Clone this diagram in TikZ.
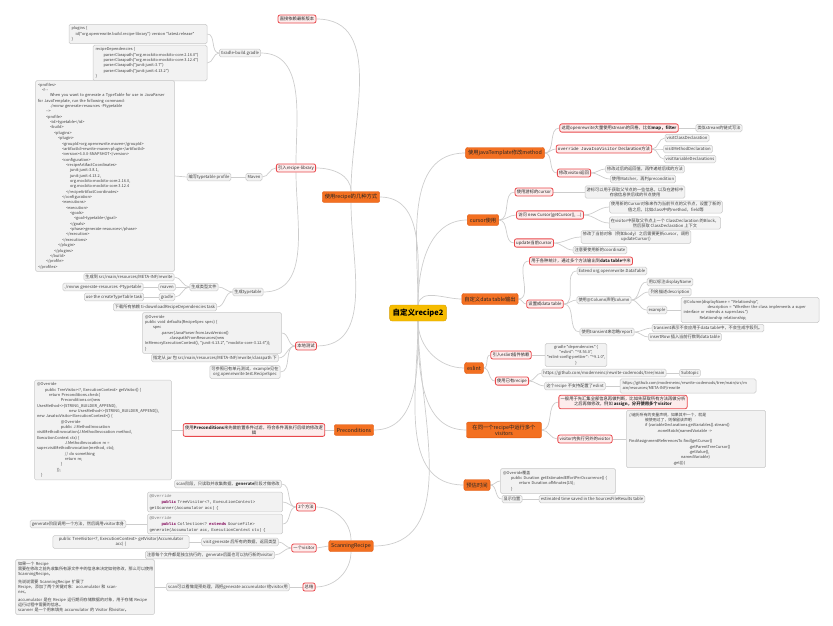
\documentclass[tikz,border=0pt]{standalone}
\usepackage{fontspec}
\newfontfamily\cjk{Noto Sans CJK SC}
\setmonofont{Liberation Mono}
\usepackage{xcolor}
\usepackage{tikz}
\usetikzlibrary{positioning, backgrounds}
\definecolor{gold}{RGB}{246, 188, 0}
\definecolor{golddk}{RGB}{214, 158, 0}
\definecolor{mmorange}{RGB}{243, 112, 33}
\definecolor{mmorangedk}{RGB}{222, 88, 18}
\definecolor{subred}{RGB}{232, 72, 76}
\definecolor{subfill}{RGB}{253, 236, 236}
\definecolor{leaffill}{RGB}{242, 242, 242}
\definecolor{leafline}{RGB}{200, 200, 200}
\definecolor{linegray}{RGB}{205, 205, 205}
\definecolor{kwpurple}{RGB}{127, 0, 85}
\newlength{\cindstep}
\setlength{\cindstep}{4pt}
\newcommand{\cind}[1]{\hspace*{#1\cindstep}}
\newcommand{\kw}[1]{\textcolor{kwpurple}{\bfseries #1}}

\begin{document}
\begin{tikzpicture}[x=1pt, y=-1pt,
  rootnode/.style={rectangle, rounded corners=2.5pt, fill=gold, draw=golddk,
    font=\cjk\fontsize{7.5pt}{9pt}\selectfont\bfseries,
    minimum height=16pt, inner sep=3pt},
  topic/.style={rectangle, rounded corners=2pt, fill=mmorange, draw=mmorangedk,
    font=\cjk\fontsize{5.3pt}{6.3pt}\selectfont, text=black!85,
    minimum height=11pt, inner sep=2.5pt, align=center},
  sub/.style={rectangle, rounded corners=2pt, fill=subfill, draw=subred,
    line width=0.8pt, font=\cjk\fontsize{4.3pt}{5.2pt}\selectfont, text=black!85,
    minimum height=8pt, inner sep=1.8pt, align=center},
  leaf/.style={rectangle, rounded corners=1.5pt, fill=leaffill, draw=leafline,
    line width=0.5pt, font=\cjk\fontsize{4.2pt}{5.2pt}\selectfont, text=black!75,
    minimum height=7.5pt, inner sep=1.6pt, align=center},
  code/.style={leaf, align=left, font=\cjk\fontsize{3.9pt}{5.35pt}\selectfont,
    inner sep=2.5pt},
  mono/.style={leaf, align=left, font=\fontsize{4.1pt}{6pt}\selectfont\ttfamily,
    inner sep=2pt},
  link/.style={draw=linegray, line width=0.7pt}
]
\useasboundingbox (0,0) rectangle (833,626);

% Root
\node[rootnode] at (418,313) (root) {自定义recipe2};

% javaTemplate branch
\node[topic] at (505,153) (jt) {使用javaTemplate修改method};
\node[sub] at (619,128) (jt1) {这是openrewrite大量使用stream的风格，比如\textbf{map，filter}};
\node[leaf] at (719,128) (jt1a) {类似stream的链式写法};
\node[sub] at (604,149) (jt2) {\texttt{override JavaIsoVisitor} Declaration方法};
\node[leaf] at (687,138) (vcd) {visitClassDeclaration};
\node[leaf] at (688,149) (vmd) {visitMethodDeclaration};
\node[leaf] at (690,159) (vvd) {visitVariableDeclarations};
\node[sub] at (574,173) (jt3) {修改visitor返回};
\node[leaf] at (645,169) (jt3a) {修改过后的返回值，再传递给后续的方法};
\node[leaf] at (643,179) (jt3b) {使用Matcher，再判precondition};

% cursor branch
\node[topic] at (483,220) (cur) {cursor使用};
\node[sub] at (534,192) (cur1) {使用游标的cursor};
\node[leaf] at (635,192) (cur1a) {游标可以用于获取父节点的一些信息，以及在游标中\\存放信息供后续的节点使用};
\node[sub] at (550,215) (cur2) {访问 new Cursor(getCursor(), ...)};
\node[leaf] at (666,207) (cur2a) {使用新的Cursor对象来作为当前节点的父节点，设置了新的\\值之后，比如class中的method，field等};
\node[leaf] at (665,223) (cur2b) {在visitor中获取父节点上一个 ClassDeclaration 的Block，\\然后获取 ClassDeclaration 上下文};
\node[sub] at (534,243) (cur3) {update当前cursor};
\node[leaf] at (636,237) (cur3a) {修改了当前对象（例如body）之后需要更新cursor，调用\\updateCursor()};
\node[leaf] at (600,250) (cur3b) {注意要使用新的coordinate};

% data table branch
\node[topic] at (490,299) (dt) {自定义data table输出};
\node[sub] at (581,261) (dt1) {用于各种统计，通过多个方法输出到\textbf{data table}中来};
\node[sub] at (545,304) (dt2) {设置成data table};
\node[leaf] at (612,271) (dt2a) {Extend org.openrewrite.DataTable};
\node[leaf] at (604,300) (dt2b) {使用@Column声明column};
\node[leaf] at (670,282) (dt2b1) {用以标注displayName};
\node[leaf] at (670,292) (dt2b2) {列名描述description};
\node[leaf] at (657,310) (dt2b3) {example};
\node[code, text width=133pt] at (750,310) (dt2b3a) {@Column(displayName = "Relationship",\\
\cind6description = "Whether the class implements a super\\
interface or extends a superclass.")\\
\cind4Relationship relationship;};
\node[leaf] at (607,332) (dt2c) {使用transient来忽略report};
\node[leaf] at (708,328) (dt2c1) {transient表示不会应用于data table中，不会生成字段列。};
\node[leaf] at (685,337) (dt2c2) {insertRow 插入当前行数到data table};

% eslint branch
\node[topic] at (474,368) (es) {eslint};
\node[sub] at (511,355) (es1) {引入eslint插件依赖};
\node[leaf, font=\cjk\fontsize{3.9pt}{5.4pt}\selectfont] at (576,355) (es1a) {gradle "dependencies" \{\\
"eslint": "\textasciicircum 8.56.0",\\
"eslint-config-prettier": "\textasciicircum 9.1.0",\\
\}};
\node[sub] at (512,381) (es2) {使用已有recipe};
\node[leaf] at (604,373) (es2a) {https://github.com/moderneinc/rewrite-codemods/tree/main};
\node[leaf] at (690,373) (es2a1) {Subtopic};
\node[leaf] at (575,386) (es2b) {这个recipe 不支持配置了eslint};
\node[code, text width=131pt] at (688,386) (es2b1) {https://github.com/moderneinc/rewrite-codemods/tree/main/src/m\\ain/resources/META-INF/rewrite};

% multiple visitors branch
\node[topic, text width=70pt] at (504,430) (mv) {在同一个recipe中运行多个\\visitors};
\node[sub] at (623,402) (mv1) {一般用于先汇集全部信息再做判断，比如先获取所有方法再做分析\\之后再做修改，例如 \textbf{assign，分开使用多个visitor}};
\node[sub] at (585,439) (mv2) {visitor内执行另外的visitor};
\node[code, text width=134pt] at (696,439) (mv2a) {//遍历所有的变量声明，如果其中一个，就是\\
\cind4被使用过了，则保留该声明\\
\cind4if (variableDeclarations.getVariables().stream()\\
\cind7.noneMatch(namedVariable ->\\[5.35pt]
FindAssignmentReferencesTo.find(getCursor()\\
\cind{15}.getParentTreeCursor()\\
\cind{15}.getValue(),\\
\cind{13}namedVariable)\\
\cind{11}.get()))};

% estimate branch
\node[topic] at (477,485) (est) {预估时间};
\node[code, text width=110pt] at (558,481) (est1) {@Override覆盖\\
\cind2public Duration getEstimatedEffortPerOccurrence() \{\\
\cind4return Duration.ofMinutes(15);\\
\cind2\}};
\node[leaf] at (512,499) (est2) {显示位置};
\node[leaf] at (592,499) (est2a) {estimated time saved in the SourcesFileResults table};

% ways to use a recipe
\node[topic] at (351,197) (ways) {使用recipe的几种方式};
\node[sub] at (297,19) (cmd) {直接依赖最新版本};
\node[sub] at (296,168) (gen) {引入recipe-library};
\node[leaf] at (240,53) (gradle) {Gradle-build.gradle};
\node[code, text width=133pt] at (138,34) (plug) {plugins \{\\
\cind1id("org.openrewrite.build.recipe-library") version "latest.release"\\
\}};
\node[code, text width=109pt] at (150,63) (rdeps) {recipeDependencies \{\\
\cind2parserClasspath("org.mockito:mockito-core:2.16.0")\\
\cind2parserClasspath("org.mockito:mockito-core:3.12.4")\\
\cind2parserClasspath("junit:junit:3.7")\\
\cind2parserClasspath("junit:junit:4.13.2")\\
\}};
\node[leaf] at (254,177) (maven) {Maven};
\node[leaf] at (209,177) (mavprof) {编写typetable profile};
\node[code, text width=134pt] at (105,176) (profile) {<profiles>\\
\cind1<!--\\
\cind3When you want to generate a TypeTable for use in JavaParser\\
for JavaTemplate, run the following command:\\
\cind3./mvnw generate-resources -Ptypetable\\
\cind2-->\\
\cind2<profile>\\
\cind3<id>typetable</id>\\
\cind3<build>\\
\cind4<plugins>\\
\cind5<plugin>\\
\cind6<groupId>org.openrewrite.maven</groupId>\\
\cind6<artifactId>rewrite-maven-plugin</artifactId>\\
\cind6<version>6.0.0-SNAPSHOT</version>\\
\cind6<configuration>\\
\cind7<recipeArtifactCoordinates>\\
\cind8junit:junit:3.8.1,\\
\cind8junit:junit:4.13.2,\\
\cind8org.mockito:mockito-core:2.16.0,\\
\cind8org.mockito:mockito-core:3.12.4\\
\cind7</recipeArtifactCoordinates>\\
\cind6</configuration>\\
\cind6<executions>\\
\cind7<execution>\\
\cind8<goals>\\
\cind9<goal>typetable</goal>\\
\cind8</goals>\\
\cind8<phase>generate-resources</phase>\\
\cind7</execution>\\
\cind6</executions>\\
\cind5</plugin>\\
\cind4</plugins>\\
\cind3</build>\\
\cind2</profile>\\
</profiles>};
\node[leaf] at (248,292) (tt) {生成typetable};
\node[leaf] at (204,287) (ttf) {生成类型文件};
\node[leaf] at (129,277) (ttnote) {生成到 src/main/resources/META-INF/rewrite};
\node[leaf] at (167,287) (mvn) {maven};
\node[leaf] at (103,287) (mvncmd) {./mvnw generate-resources -Ptypetable};
\node[leaf] at (167,297) (grd) {gradle};
\node[leaf] at (114,297) (grdcmd) {use the createTypeTable task};
\node[leaf] at (165,307) (ttdl) {下载所有依赖 ti-downloadRecipeDependencies task};
\node[sub] at (306,346) (test) {本地测试};
\node[code, text width=134pt] at (212,333) (testcode) {@Override\\
public void defaults(RecipeSpec spec) \{\\
\cind2spec\\
\cind4.parser(JavaParser.fromJavaVersion()\\
\cind6.classpathFromResources(new\\
InMemoryExecutionContext(), "junit-4.13.2", "mockito-core-3.12.4"));\\
\}};
\node[leaf] at (215,358) (testjar) {指定从 jar 包 src/main/resources/META-INF/rewrite/classpath 下};
\node[leaf] at (245,372) (testex) {可参照已有单元测试，example见在\\org.openrewrite.test.RecipeSpec};

% Preconditions
\node[topic] at (354,430) (prec) {Preconditions};
\node[sub] at (254,430) (precnote) {使用\textbf{Preconditions}来先做前置条件过滤，符合条件再执行后续的修改逻\\辑};
\node[code, text width=132pt] at (103,430) (preccode) {@Override\\
\cind2public TreeVisitor<?, ExecutionContext> getVisitor() \{\\
\cind3return Preconditions.check(\\
\cind6Preconditions.or(new\\
UsesMethod<>(STRING\_BUILDER\_APPEND),\\
\cind8new UsesMethod<>(STRING\_BUILDER\_APPEND)),\\
new JavaIsoVisitor<ExecutionContext>() \{\\
\cind6@Override\\
\cind6public J.MethodInvocation\\
visitMethodInvocation(J.MethodInvocation method,\\
ExecutionContext ctx) \{\\
\cind7J.MethodInvocation m =\\
super.visitMethodInvocation(method, ctx);\\
\cind7// do something\\
\cind7return m;\\
\cind6\}\\
\cind5\});\\
\cind1\}};

% ScanningRecipe
\node[topic] at (351,546) (scan) {ScanningRecipe};
\node[sub] at (306,507) (twom) {2个方法};
\node[leaf] at (228,484) (twomn) {scan阶段，只读取并收集数据，\textbf{generate}阶段才做修改};
\node[mono, text width=131pt] at (215,502) (twomc1) {\textcolor{gray}{@Override}\\
\cind3\kw{public} TreeVisitor<?, ExecutionContext>\\
getScanner(Accumulator acc) \{};
\node[mono, text width=131pt] at (215,524) (twomc2) {\textcolor{gray}{@Override}\\
\cind3\kw{public} Collection<? \kw{extends} SourceFile>\\
generate(Accumulator acc, ExecutionContext ctx) \{};
\node[leaf] at (78,524) (twomg) {generate阶段调用一个方法，然后调用visitor本身};
\node[sub] at (304,548) (onev) {一个visitor};
\node[leaf] at (240,542) (onev1) {visit generate 后所有的数据，返回类型};
\node[leaf, text width=133pt] at (121,542) (onev1a) {public TreeVisitor<?, ExecutionContext> getVisitor(Accumulator\\acc) \{};
\node[leaf] at (210,555) (onev2) {注意每个文件都是独立执行的，generate后面也可以执行新的visitor};
\node[sub] at (309,587) (summ) {总结};
\node[leaf] at (228,587) (summ1) {scan可以看做是预处理，再把generate accumulator 给visitor用};
\node[code, text width=134pt, font=\cjk\fontsize{4.1pt}{5.3pt}\selectfont] at (85,587) (summ1a) {如果一个 Recipe 需要在修改之前先收集所有源文件中的信息来决定如何修改，那么可以使用 ScanningRecipe。\\[2pt]
先说说需要 ScanningRecipe 扩展了 Recipe，添加了两个关键对象：accumulator 和 scanner。\\[2pt]
accumulator 是在 Recipe 运行期间存储数据的对象，用于存储 Recipe 运行过程中需要的信息。\\
scanner 是一个用来填充 accumulator 的 Visitor 和visitor。};

% Connectors
\begin{scope}[on background layer]
\draw[link] (root.north) to[out=90, in=180] (jt.west);
\draw[link] (root.north) to[out=90, in=180] (cur.west);
\draw[link] (root.north) to[out=80, in=180] (dt.west);
\draw[link] (root.south) to[out=270, in=180] (es.west);
\draw[link] (root.south) to[out=270, in=180] (mv.west);
\draw[link] (root.south) to[out=270, in=180] (est.west);
\draw[link] (root.north) to[out=90, in=0] (ways.east);
\draw[link] (root.south) to[out=270, in=0] (prec.east);
\draw[link] (root.south) to[out=270, in=0] (scan.east);

\draw[link] (jt.east) to[out=0, in=180] (jt1.west);
\draw[link] (jt.east) to[out=0, in=180] (jt2.west);
\draw[link] (jt.east) to[out=0, in=180] (jt3.west);
\draw[link] (jt1.east) -- (jt1a.west);
\draw[link] (jt2.east) to[out=0, in=180] (vcd.west);
\draw[link] (jt2.east) to[out=0, in=180] (vmd.west);
\draw[link] (jt2.east) to[out=0, in=180] (vvd.west);
\draw[link] (jt3.east) to[out=0, in=180] (jt3a.west);
\draw[link] (jt3.east) to[out=0, in=180] (jt3b.west);

\draw[link] (cur.east) to[out=0, in=180] (cur1.west);
\draw[link] (cur.east) to[out=0, in=180] (cur2.west);
\draw[link] (cur.east) to[out=0, in=180] (cur3.west);
\draw[link] (cur1.east) -- (cur1a.west);
\draw[link] (cur2.east) to[out=0, in=180] (cur2a.west);
\draw[link] (cur2.east) to[out=0, in=180] (cur2b.west);
\draw[link] (cur3.east) to[out=0, in=180] (cur3a.west);
\draw[link] (cur3.east) to[out=0, in=180] (cur3b.west);

\draw[link] (dt.east) to[out=0, in=180] (dt1.west);
\draw[link] (dt.east) to[out=0, in=180] (dt2.west);
\draw[link] (dt2.east) to[out=0, in=180] (dt2a.west);
\draw[link] (dt2.east) to[out=0, in=180] (dt2b.west);
\draw[link] (dt2.east) to[out=0, in=180] (dt2c.west);
\draw[link] (dt2b.east) to[out=0, in=180] (dt2b1.west);
\draw[link] (dt2b.east) to[out=0, in=180] (dt2b2.west);
\draw[link] (dt2b.east) to[out=0, in=180] (dt2b3.west);
\draw[link] (dt2b3.east) -- (dt2b3a.west);
\draw[link] (dt2c.east) to[out=0, in=180] (dt2c1.west);
\draw[link] (dt2c.east) to[out=0, in=180] (dt2c2.west);

\draw[link] (es.east) to[out=0, in=180] (es1.west);
\draw[link] (es.east) to[out=0, in=180] (es2.west);
\draw[link] (es1.east) -- (es1a.west);
\draw[link] (es2.east) to[out=0, in=180] (es2a.west);
\draw[link] (es2.east) to[out=0, in=180] (es2b.west);
\draw[link] (es2a.east) -- (es2a1.west);
\draw[link] (es2b.east) -- (es2b1.west);

\draw[link] (mv.east) to[out=0, in=180] (mv1.west);
\draw[link] (mv.east) to[out=0, in=180] (mv2.west);
\draw[link] (mv2.east) -- (mv2a.west);

\draw[link] (est.east) to[out=0, in=180] (est1.west);
\draw[link] (est.east) to[out=0, in=180] (est2.west);
\draw[link] (est2.east) -- (est2a.west);

\draw[link] (ways.north) to[out=90, in=0] (cmd.east);
\draw[link] (ways.north) to[out=90, in=0] (gen.east);
\draw[link] (ways.south) to[out=270, in=0] (test.east);
\draw[link] (gen.north) to[out=90, in=0] (gradle.east);
\draw[link] (gen.west) to[out=180, in=0] (maven.east);
\draw[link] (gen.south) to[out=270, in=0] (tt.east);
\draw[link] (gradle.west) to[out=180, in=0] (plug.east);
\draw[link] (gradle.west) to[out=180, in=0] (rdeps.east);
\draw[link] (maven.west) -- (mavprof.east);
\draw[link] (mavprof.west) -- (profile.east);
\draw[link] (tt.west) to[out=180, in=0] (ttf.east);
\draw[link] (tt.west) to[out=180, in=0] (ttdl.east);
\draw[link] (ttf.west) to[out=180, in=0] (ttnote.east);
\draw[link] (ttf.west) -- (mvn.east);
\draw[link] (ttf.west) to[out=180, in=0] (grd.east);
\draw[link] (mvn.west) -- (mvncmd.east);
\draw[link] (grd.west) -- (grdcmd.east);
\draw[link] (test.west) to[out=180, in=0] (testcode.east);
\draw[link] (test.west) to[out=180, in=0] (testjar.east);
\draw[link] (test.west) to[out=180, in=0] (testex.east);

\draw[link] (prec.west) -- (precnote.east);
\draw[link] (precnote.west) -- (preccode.east);

\draw[link] (scan.north) to[out=90, in=0] (twom.east);
\draw[link] (scan.west) -- (onev.east);
\draw[link] (scan.south) to[out=270, in=0] (summ.east);
\draw[link] (twom.west) to[out=180, in=0] (twomn.east);
\draw[link] (twom.west) to[out=180, in=0] (twomc1.east);
\draw[link] (twom.west) to[out=180, in=0] (twomc2.east);
\draw[link] (twomc2.west) -- (twomg.east);
\draw[link] (onev.west) to[out=180, in=0] (onev1.east);
\draw[link] (onev.west) to[out=180, in=0] (onev2.east);
\draw[link] (onev1.west) -- (onev1a.east);
\draw[link] (summ.west) -- (summ1.east);
\draw[link] (summ1.west) -- (summ1a.east);
\end{scope}
\end{tikzpicture}
\end{document}
